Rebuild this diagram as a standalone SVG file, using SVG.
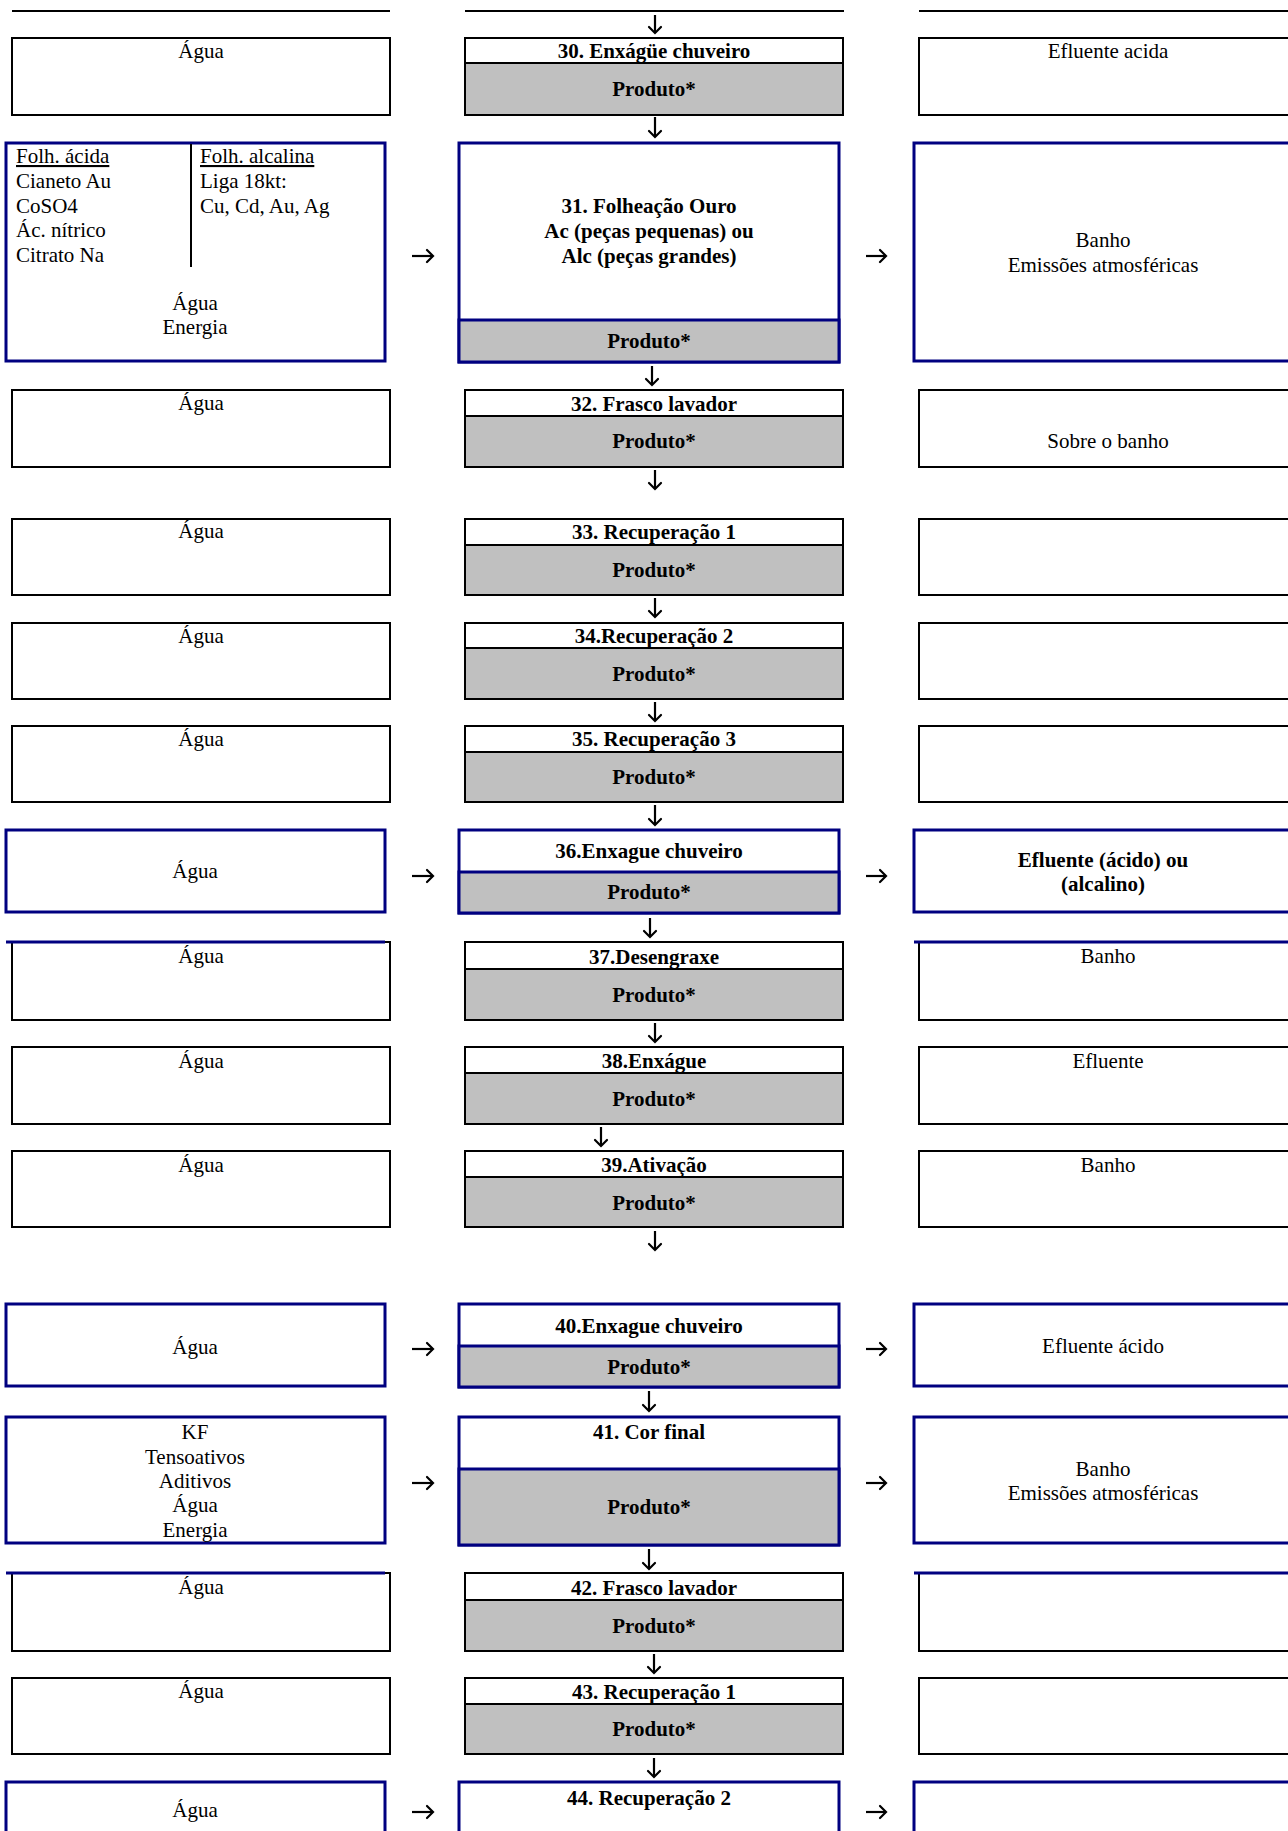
<svg xmlns="http://www.w3.org/2000/svg" width="1288" height="1831" viewBox="0 0 1288 1831">
  <defs>
    <style>
      .t { font-family: "Liberation Serif", "Times New Roman", serif; font-size: 21px; fill: #000; }
      .b { font-weight: bold; }
      .c { text-anchor: middle; }
      .u { text-decoration: underline; }
      .box { fill: #fff; stroke: #000; stroke-width: 2; }
      .pbox { fill: #c0c0c0; stroke: #000; stroke-width: 2; }
      .bbox { fill: #fff; stroke: #000080; stroke-width: 3; }
      .bpbox { fill: #c0c0c0; stroke: #000080; stroke-width: 3; }
      .bline { stroke: #000080; stroke-width: 3; fill: none; }
      .rule { stroke: #000; stroke-width: 2; fill: none; }
      .conn { stroke: #000; stroke-width: 2.2; fill: none; marker-end: url(#ah); }
    </style>
    <marker id="ah" markerUnits="userSpaceOnUse" viewBox="-9 -8 11 16" markerWidth="11" markerHeight="16" refX="0" refY="0" orient="auto" overflow="visible">
      <path d="M-6,-6 L0,0 L-6,6" fill="none" stroke="#000" stroke-width="2.2" stroke-linecap="round"/>
    </marker>
  </defs>

  <rect width="1288" height="1831" fill="#fff"/>

  <!-- header rules (end of the previous page's table) -->
  <g id="header">
    <line class="rule" x1="12" y1="11" x2="390" y2="11"/>
    <line class="rule" x1="465" y1="11" x2="844" y2="11"/>
    <line class="rule" x1="919" y1="11" x2="1288" y2="11"/>
  </g>

  <!-- ===== inputs (left column) ===== -->
  <g id="in30"><rect class="box" x="12" y="38" width="378" height="77"/><text class="t c" x="201" y="58">Água</text></g>
  <g id="in31">
    <rect class="bbox" x="6" y="143" width="379" height="218"/>
    <line class="rule" x1="191" y1="144" x2="191" y2="267"/>
    <text class="t u" x="16" y="163">Folh. ácida</text>
    <text class="t" x="16" y="188">Cianeto Au</text>
    <text class="t" x="16" y="213">CoSO4</text>
    <text class="t" x="16" y="237">Ác. nítrico</text>
    <text class="t" x="16" y="262">Citrato Na</text>
    <text class="t u" x="200" y="163">Folh. alcalina</text>
    <text class="t" x="200" y="188">Liga 18kt:</text>
    <text class="t" x="200" y="213">Cu, Cd, Au, Ag</text>
    <text class="t c" x="195" y="310">Água</text>
    <text class="t c" x="195" y="334">Energia</text>
  </g>
  <g id="in32"><rect class="box" x="12" y="390" width="378" height="77"/><text class="t c" x="201" y="410">Água</text></g>
  <g id="in33"><rect class="box" x="12" y="519" width="378" height="76"/><text class="t c" x="201" y="538">Água</text></g>
  <g id="in34"><rect class="box" x="12" y="623" width="378" height="76"/><text class="t c" x="201" y="643">Água</text></g>
  <g id="in35"><rect class="box" x="12" y="726" width="378" height="76"/><text class="t c" x="201" y="746">Água</text></g>
  <g id="in36"><rect class="bbox" x="6" y="830" width="379" height="82"/><text class="t c" x="195" y="878">Água</text></g>
  <g id="in37"><rect class="box" x="12" y="942" width="378" height="78"/><line class="bline" x1="6" y1="942" x2="385" y2="942"/><text class="t c" x="201" y="963">Água</text></g>
  <g id="in38"><rect class="box" x="12" y="1047" width="378" height="77"/><text class="t c" x="201" y="1068">Água</text></g>
  <g id="in39"><rect class="box" x="12" y="1151" width="378" height="76"/><text class="t c" x="201" y="1172">Água</text></g>
  <g id="in40"><rect class="bbox" x="6" y="1304" width="379" height="82"/><text class="t c" x="195" y="1354">Água</text></g>
  <g id="in41">
    <rect class="bbox" x="6" y="1417" width="379" height="126"/>
    <text class="t c" x="195" y="1439">KF</text>
    <text class="t c" x="195" y="1464">Tensoativos</text>
    <text class="t c" x="195" y="1488">Aditivos</text>
    <text class="t c" x="195" y="1512">Água</text>
    <text class="t c" x="195" y="1537">Energia</text>
  </g>
  <g id="in42"><rect class="box" x="12" y="1573" width="378" height="78"/><line class="bline" x1="6" y1="1573" x2="385" y2="1573"/><text class="t c" x="201" y="1594">Água</text></g>
  <g id="in43"><rect class="box" x="12" y="1678" width="378" height="76"/><text class="t c" x="201" y="1698">Água</text></g>
  <g id="in44"><rect class="bbox" x="6" y="1782" width="379" height="80"/><text class="t c" x="195" y="1817">Água</text></g>

  <!-- ===== process steps (centre column) ===== -->
  <g id="s30"><rect class="box" x="465" y="38" width="378" height="77"/><rect class="pbox" x="465" y="63" width="378" height="52"/>
    <text class="t b c" x="654" y="58">30. Enxágüe chuveiro</text><text class="t b c" x="654" y="96">Produto*</text></g>
  <g id="s31"><rect class="bbox" x="459" y="143" width="380" height="219"/><rect class="bpbox" x="459" y="320" width="380" height="42"/>
    <text class="t b c" x="649" y="213">31. Folheação Ouro</text>
    <text class="t b c" x="649" y="238">Ac (peças pequenas) ou</text>
    <text class="t b c" x="649" y="263">Alc (peças grandes)</text>
    <text class="t b c" x="649" y="348">Produto*</text></g>
  <g id="s32"><rect class="box" x="465" y="390" width="378" height="77"/><rect class="pbox" x="465" y="416" width="378" height="51"/>
    <text class="t b c" x="654" y="411">32. Frasco lavador</text><text class="t b c" x="654" y="448">Produto*</text></g>
  <g id="s33"><rect class="box" x="465" y="519" width="378" height="76"/><rect class="pbox" x="465" y="545" width="378" height="50"/>
    <text class="t b c" x="654" y="539">33. Recuperação 1</text><text class="t b c" x="654" y="577">Produto*</text></g>
  <g id="s34"><rect class="box" x="465" y="623" width="378" height="76"/><rect class="pbox" x="465" y="648" width="378" height="51"/>
    <text class="t b c" x="654" y="643">34.Recuperação 2</text><text class="t b c" x="654" y="681">Produto*</text></g>
  <g id="s35"><rect class="box" x="465" y="726" width="378" height="76"/><rect class="pbox" x="465" y="752" width="378" height="50"/>
    <text class="t b c" x="654" y="746">35. Recuperação 3</text><text class="t b c" x="654" y="784">Produto*</text></g>
  <g id="s36"><rect class="bbox" x="459" y="830" width="380" height="83"/><rect class="bpbox" x="459" y="872" width="380" height="41"/>
    <text class="t b c" x="649" y="858">36.Enxague chuveiro</text><text class="t b c" x="649" y="899">Produto*</text></g>
  <g id="s37"><rect class="box" x="465" y="942" width="378" height="78"/><rect class="pbox" x="465" y="969" width="378" height="51"/>
    <text class="t b c" x="654" y="964">37.Desengraxe</text><text class="t b c" x="654" y="1002">Produto*</text></g>
  <g id="s38"><rect class="box" x="465" y="1047" width="378" height="77"/><rect class="pbox" x="465" y="1073" width="378" height="51"/>
    <text class="t b c" x="654" y="1068">38.Enxágue</text><text class="t b c" x="654" y="1106">Produto*</text></g>
  <g id="s39"><rect class="box" x="465" y="1151" width="378" height="76"/><rect class="pbox" x="465" y="1177" width="378" height="50"/>
    <text class="t b c" x="654" y="1172">39.Ativação</text><text class="t b c" x="654" y="1210">Produto*</text></g>
  <g id="s40"><rect class="bbox" x="459" y="1304" width="380" height="83"/><rect class="bpbox" x="459" y="1346" width="380" height="41"/>
    <text class="t b c" x="649" y="1333">40.Enxague chuveiro</text><text class="t b c" x="649" y="1374">Produto*</text></g>
  <g id="s41"><rect class="bbox" x="459" y="1417" width="380" height="128"/><rect class="bpbox" x="459" y="1469" width="380" height="76"/>
    <text class="t b c" x="649" y="1439">41. Cor final</text><text class="t b c" x="649" y="1514">Produto*</text></g>
  <g id="s42"><rect class="box" x="465" y="1573" width="378" height="78"/><rect class="pbox" x="465" y="1600" width="378" height="51"/>
    <text class="t b c" x="654" y="1595">42. Frasco lavador</text><text class="t b c" x="654" y="1633">Produto*</text></g>
  <g id="s43"><rect class="box" x="465" y="1678" width="378" height="76"/><rect class="pbox" x="465" y="1704" width="378" height="50"/>
    <text class="t b c" x="654" y="1699">43. Recuperação 1</text><text class="t b c" x="654" y="1736">Produto*</text></g>
  <g id="s44"><rect class="bbox" x="459" y="1782" width="380" height="80"/>
    <text class="t b c" x="649" y="1805">44. Recuperação 2</text></g>

  <!-- ===== outputs (right column) ===== -->
  <g id="out30"><rect class="box" x="919" y="38" width="378" height="77"/><text class="t c" x="1108" y="58">Efluente acida</text></g>
  <g id="out31"><rect class="bbox" x="914" y="143" width="380" height="218"/>
    <text class="t c" x="1103" y="247">Banho</text><text class="t c" x="1103" y="272">Emissões atmosféricas</text></g>
  <g id="out32"><rect class="box" x="919" y="390" width="378" height="77"/><text class="t c" x="1108" y="448">Sobre o banho</text></g>
  <g id="out33"><rect class="box" x="919" y="519" width="378" height="76"/></g>
  <g id="out34"><rect class="box" x="919" y="623" width="378" height="76"/></g>
  <g id="out35"><rect class="box" x="919" y="726" width="378" height="76"/></g>
  <g id="out36"><rect class="bbox" x="914" y="830" width="380" height="82"/>
    <text class="t b c" x="1103" y="867">Efluente (ácido) ou</text><text class="t b c" x="1103" y="891">(alcalino)</text></g>
  <g id="out37"><rect class="box" x="919" y="942" width="378" height="78"/><line class="bline" x1="914" y1="942" x2="1288" y2="942"/><text class="t c" x="1108" y="963">Banho</text></g>
  <g id="out38"><rect class="box" x="919" y="1047" width="378" height="77"/><text class="t c" x="1108" y="1068">Efluente</text></g>
  <g id="out39"><rect class="box" x="919" y="1151" width="378" height="76"/><text class="t c" x="1108" y="1172">Banho</text></g>
  <g id="out40"><rect class="bbox" x="914" y="1304" width="380" height="82"/><text class="t c" x="1103" y="1353">Efluente ácido</text></g>
  <g id="out41"><rect class="bbox" x="914" y="1417" width="380" height="126"/>
    <text class="t c" x="1103" y="1476">Banho</text><text class="t c" x="1103" y="1500">Emissões atmosféricas</text></g>
  <g id="out42"><rect class="box" x="919" y="1573" width="378" height="78"/><line class="bline" x1="914" y1="1573" x2="1288" y2="1573"/></g>
  <g id="out43"><rect class="box" x="919" y="1678" width="378" height="76"/></g>
  <g id="out44"><rect class="bbox" x="914" y="1782" width="380" height="80"/></g>

  <!-- ===== flow arrows ===== -->
  <g id="connectors">
    <path class="conn" d="M655,15 V33"/>
    <path class="conn" d="M655,117 V137"/>
    <path class="conn" d="M652,366 V385"/>
    <path class="conn" d="M655,470 V489"/>
    <path class="conn" d="M655,598 V617"/>
    <path class="conn" d="M655,702 V721"/>
    <path class="conn" d="M655,805 V825"/>
    <path class="conn" d="M650,918 V937"/>
    <path class="conn" d="M655,1023 V1042"/>
    <path class="conn" d="M601,1127 V1146"/>
    <path class="conn" d="M655,1231 V1250"/>
    <path class="conn" d="M649,1391 V1411"/>
    <path class="conn" d="M649,1549 V1569"/>
    <path class="conn" d="M654,1654 V1673"/>
    <path class="conn" d="M654,1758 V1777"/>

    <path class="conn" d="M412,256 H433"/>
    <path class="conn" d="M866,256 H886"/>
    <path class="conn" d="M412,876 H433"/>
    <path class="conn" d="M866,876 H886"/>
    <path class="conn" d="M412,1349 H433"/>
    <path class="conn" d="M866,1349 H886"/>
    <path class="conn" d="M412,1483 H433"/>
    <path class="conn" d="M866,1483 H886"/>
    <path class="conn" d="M412,1812 H433"/>
    <path class="conn" d="M866,1812 H886"/>
  </g>
</svg>
